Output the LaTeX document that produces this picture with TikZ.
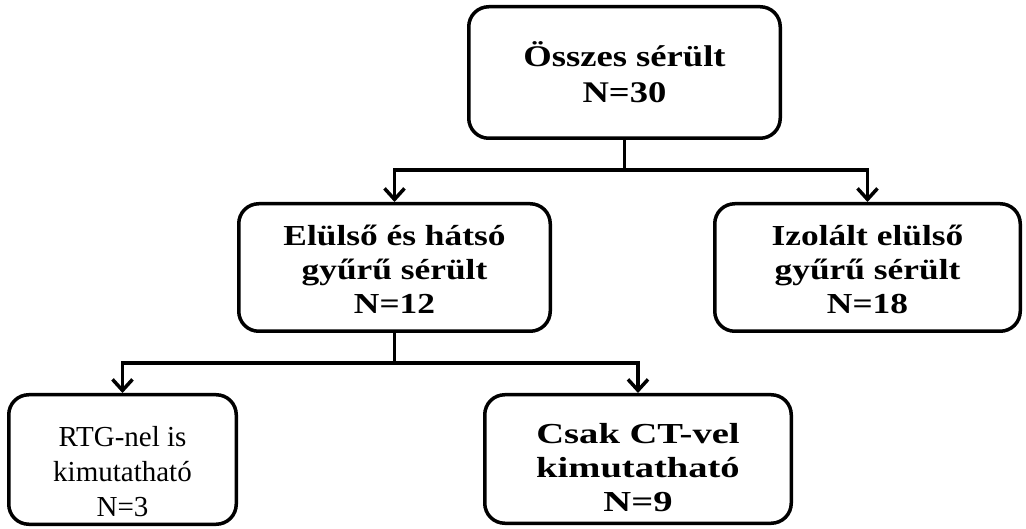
\documentclass[tikz,border=0pt]{standalone}
\usepackage{fontspec}
\setmainfont{Liberation Serif}
\newfontfamily\widefont{Liberation Serif}[FakeStretch=1.22]
\newfontfamily\widerfont{Liberation Serif}[FakeStretch=1.33]
\usetikzlibrary{arrows.meta}
\tikzset{
  box/.style={draw=black, line width=3.5pt, rounded corners=20pt, fill=white, align=center, inner sep=0pt},
  wtext/.style={font=\widefont\bfseries\fontsize{29}{34}\selectfont},
  wwtext/.style={font=\widerfont\bfseries\fontsize{29}{34}\selectfont},
  ntext/.style={font=\fontsize{29}{35}\selectfont},
  conn/.style={line width=3.5pt},
  arr/.style={line width=3.5pt, -{Straight Barb[length=11pt,width=20pt]}}
}
\begin{document}
\begin{tikzpicture}[x=1pt,y=1pt]
\useasboundingbox (0,0) rectangle (1026,-529);
\node[box, font=\widefont\bfseries\fontsize{30}{36}\selectfont, minimum width=311.5pt, minimum height=131.5pt] (b1) at (624.5,-72.5) {Összes sérült\\N=30};
\node[box, wtext, minimum width=311.5pt, minimum height=127.5pt] (b2) at (394.5,-267.5) {\rule{0pt}{25pt}Elülső és hátsó\\gyűrű sérült\\N=12};
\node[box, wtext, minimum width=305.5pt, minimum height=127.5pt] (b3) at (867.5,-267.5) {\rule{0pt}{25pt}Izolált elülső\\gyűrű sérült\\N=18};
\node[box, ntext, minimum width=227.5pt, minimum height=129.5pt] (b4) at (122.5,-459.5) {\rule{0pt}{44pt}RTG-nel is\\kimutatható\\N=3};
\node[box, wwtext, minimum width=306.5pt, minimum height=128.5pt] (b5) at (638,-459) {\rule{0pt}{38pt}Csak CT-vel\\kimutatható\\N=9};
\coordinate (j1) at (624.5,-170);
\coordinate (j2) at (394.5,-363);
\draw[conn] (b1.south) -- (j1);
\draw[arr] (j1) -| (b2.north);
\draw[arr] (j1) -| (b3.north);
\draw[conn] (b2.south) -- (j2);
\draw[arr] (j2) -| (b4.north);
\draw[arr] (j2) -| (b5.north);
\end{tikzpicture}
\end{document}
